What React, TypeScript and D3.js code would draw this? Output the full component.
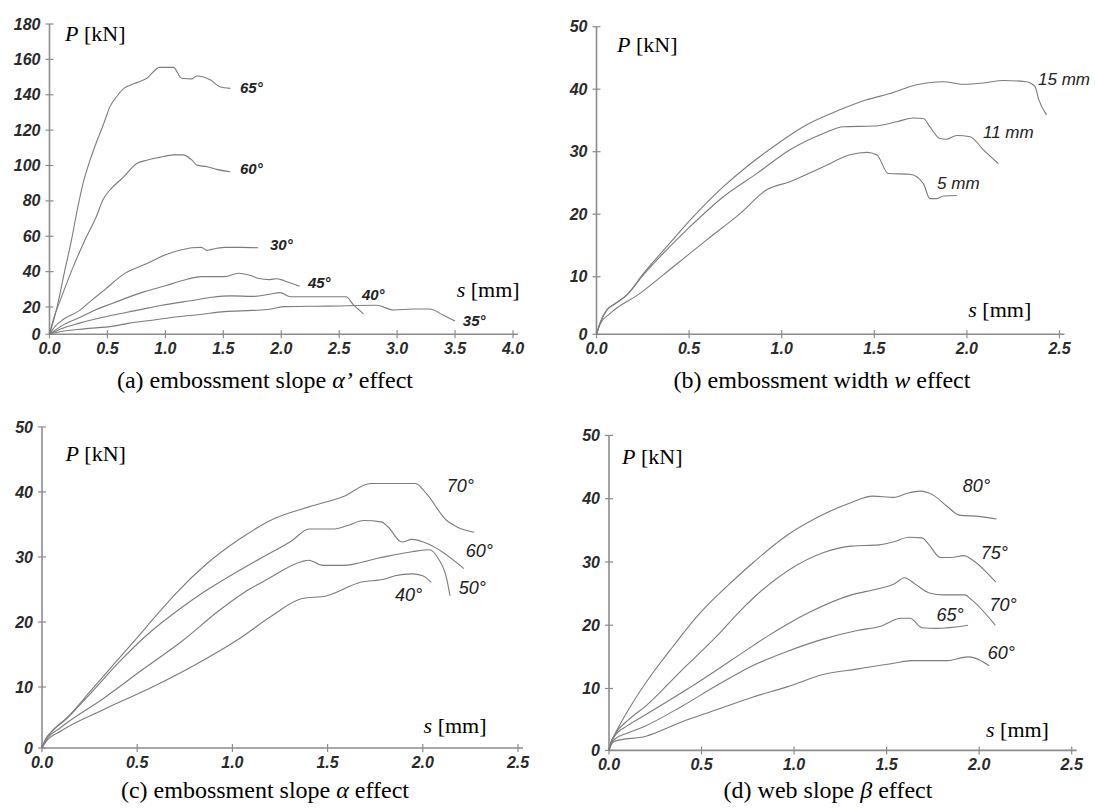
import React from "react";
import * as d3 from "d3";

type Pt = [number, number];

// ---------- Panel (a): embossment slope alpha' ----------
const aXTicks = [0, 0.5, 1, 1.5, 2, 2.5, 3, 3.5, 4];
const aYTicks = [0, 20, 40, 60, 80, 100, 120, 140, 160, 180];
const a65: Pt[] = [[0,0],[0.06,18],[0.13,40],[0.19,58],[0.24,75],[0.29,90],[0.35,103],[0.41,114],[0.47,124],[0.52,133],[0.58,139],[0.65,144],[0.7,145.5],[0.76,147],[0.84,149.3],[0.95,155.5],[1.07,155.5],[1.14,149.3],[1.23,149],[1.27,150.6],[1.39,148.3],[1.47,144.5],[1.56,143.6]];
const a60: Pt[] = [[0,0],[0.03,10],[0.1,25],[0.2,42],[0.3,57],[0.41,72],[0.46,80.5],[0.52,86],[0.64,93.6],[0.75,101],[0.84,103],[0.95,104.6],[1.07,106],[1.15,106],[1.23,103],[1.27,100.3],[1.36,99.3],[1.44,97.8],[1.56,96.5]];
const a30: Pt[] = [[0,0],[0.05,6],[0.12,11],[0.25,17],[0.35,23],[0.48,30],[0.65,39],[0.82,44],[1.02,50],[1.15,52.5],[1.23,53.5],[1.31,53.7],[1.36,52],[1.4,52.6],[1.51,53.7],[1.65,53.7],[1.8,53.5]];
const a45: Pt[] = [[0,0],[0.1,6],[0.25,12],[0.4,18],[0.54,22],[0.7,26],[0.82,28.7],[1.0,32],[1.15,35],[1.31,37.2],[1.51,37.2],[1.63,39.1],[1.72,38.1],[1.8,36.3],[1.9,35.5],[1.96,36],[2.02,35],[2.08,33.6],[2.16,31.7]];
const a40: Pt[] = [[0,0],[0.1,4],[0.25,8],[0.54,14],[0.75,17.5],[0.97,21],[1.26,24],[1.4,25.5],[1.57,26.3],[1.75,26],[1.9,27.2],[1.99,28.1],[2.08,25.8],[2.56,25.8],[2.62,21.5],[2.71,15]];
const a35: Pt[] = [[0,0],[0.1,2],[0.3,4],[0.55,6],[0.68,8],[0.9,10.5],[1.11,12.9],[1.3,14.5],[1.51,16.6],[1.75,17.5],[1.9,18.3],[2.02,20.2],[2.4,20.5],[2.82,21],[2.97,17.8],[3.14,18.5],[3.28,18.5],[3.4,14],[3.5,9.7]];
const aNames = ["65°", "60°", "30°", "45°", "40°", "35°"];
const aLabelAt: Pt[] = [[1.644,144.2],[1.644,98],[1.903,55],[2.23,33.6],[2.696,26.8],[3.567,9.7]];

// ---------- Panel (b): embossment width w ----------
const bXTicks = [0, 0.5, 1, 1.5, 2, 2.5];
const bYTicks = [0, 10, 20, 30, 40, 50];
const b15: Pt[] = [[0,0],[0.02,2],[0.055,4.2],[0.1,5.3],[0.163,6.8],[0.253,10.5],[0.379,14.8],[0.523,19.6],[0.685,24.4],[0.811,27.6],[0.955,30.8],[1.135,34.3],[1.315,36.7],[1.459,38.3],[1.585,39.3],[1.729,40.7],[1.873,41.2],[1.98,40.8],[2.09,41],[2.197,41.4],[2.32,41.2],[2.368,40.4],[2.386,38.5],[2.43,35.9]];
const b11: Pt[] = [[0,0],[0.02,2],[0.055,4.2],[0.1,5.3],[0.163,6.8],[0.253,10.3],[0.379,14.3],[0.505,18],[0.685,22.8],[0.865,26.5],[1.045,30.3],[1.225,32.9],[1.333,34],[1.495,34.1],[1.621,34.8],[1.711,35.4],[1.765,35.3],[1.8,34],[1.855,32.1],[1.891,32],[1.945,32.6],[2.017,32.4],[2.089,30.3],[2.17,28.1]];
const b5: Pt[] = [[0,0],[0.02,1.8],[0.073,3.6],[0.235,7.1],[0.415,11.6],[0.595,15.9],[0.775,20.1],[0.919,23.9],[1.045,25.2],[1.225,27.6],[1.369,29.5],[1.459,29.9],[1.513,29.5],[1.576,26.5],[1.693,26.4],[1.765,24.9],[1.8,22.5],[1.837,22.5],[1.873,22.9],[1.945,23]];
const bNames = ["15 mm", "11 mm", "5 mm"];
const bLabelAt: Pt[] = [[2.384,41.7],[2.087,33.2],[1.839,25]];

// ---------- Panel (c): embossment slope alpha ----------
const cXTicks = [0, 0.5, 1, 1.5, 2, 2.5];
const cYTicks = [0, 10, 20, 30, 40, 50];
const c70: Pt[] = [[0,0],[0.02,1.5],[0.045,2.5],[0.136,5.1],[0.262,9.6],[0.371,13.3],[0.498,17.5],[0.6,21],[0.7,24.3],[0.859,28.8],[1.04,32.8],[1.221,35.9],[1.402,37.7],[1.583,39.3],[1.727,41.3],[1.962,41.3],[2.017,39.8],[2.126,35.6],[2.18,34.6],[2.27,33.8]];
const c60: Pt[] = [[0,0],[0.02,1.5],[0.045,2.5],[0.136,5],[0.262,9.2],[0.407,13.9],[0.551,18],[0.714,21.8],[0.85,24.6],[1.0,27.3],[1.149,29.8],[1.312,32.5],[1.402,34.3],[1.529,34.3],[1.601,34.8],[1.691,35.6],[1.781,35.4],[1.818,34.6],[1.89,32.3],[1.944,32.7],[2.035,31.9],[2.216,28.2]];
const c50: Pt[] = [[0,0],[0.02,1.2],[0.1,3.4],[0.317,8],[0.534,12.8],[0.733,17],[0.932,21.8],[1.06,24.5],[1.185,26.6],[1.366,29.3],[1.402,29.5],[1.474,28.7],[1.583,28.7],[1.764,29.8],[1.944,30.8],[2.035,31.1],[2.08,29.8],[2.126,26.6],[2.143,24]];
const c40: Pt[] = [[0,0],[0.02,1],[0.1,2.8],[0.317,6.2],[0.588,10.1],[0.859,14.3],[1.04,17.5],[1.2,20.8],[1.366,23.6],[1.492,24],[1.673,26.1],[1.8,26.6],[1.854,27.1],[1.944,27.4],[1.999,27.1],[2.044,26.1]];
const cNames = ["70°", "60°", "50°", "40°"];
const cLabelAt: Pt[] = [[2.126,41],[2.225,31],[2.189,25.3],[1.854,24.2]];

// ---------- Panel (d): web slope beta ----------
const dXTicks = [0, 0.5, 1, 1.5, 2, 2.5];
const dYTicks = [0, 10, 20, 30, 40, 50];
const d80: Pt[] = [[0,0],[0.01,1.2],[0.03,2.5],[0.12,7.3],[0.24,12.6],[0.35,16.8],[0.47,21.2],[0.56,24],[0.65,26.5],[0.775,29.8],[0.966,34.3],[1.157,37.5],[1.31,39.4],[1.425,40.4],[1.54,40.2],[1.616,40.9],[1.683,41.2],[1.75,40.6],[1.826,38.8],[1.893,37.4],[1.998,37.2],[2.094,36.8]];
const d75: Pt[] = [[0,0],[0.01,1.2],[0.03,2.5],[0.1,4.8],[0.2,7.2],[0.39,12.8],[0.59,18.5],[0.7,22],[0.78,24.3],[0.97,28.7],[1.16,31.5],[1.31,32.5],[1.46,32.7],[1.54,33.2],[1.62,33.9],[1.69,33.8],[1.73,32.7],[1.79,30.7],[1.85,30.7],[1.92,31],[1.96,30.4],[2.09,26.8]];
const d70: Pt[] = [[0,0],[0.01,1.2],[0.03,2.3],[0.1,4],[0.2,5.8],[0.488,11.1],[0.775,16.7],[0.853,18.2],[0.966,20.2],[1.08,22],[1.31,24.8],[1.444,25.7],[1.54,26.5],[1.597,27.5],[1.654,26.5],[1.731,25.1],[1.807,24.8],[1.922,24.8],[1.96,24],[2.087,20]];
const d65: Pt[] = [[0,0],[0.01,1],[0.03,1.8],[0.1,2.8],[0.2,4],[0.392,7.1],[0.584,10.5],[0.775,13.6],[0.966,15.9],[1.157,17.8],[1.348,19.2],[1.463,19.8],[1.578,21.1],[1.626,21.1],[1.693,19.6],[1.769,19.5],[1.94,20]];
const d60: Pt[] = [[0,0],[0.01,0.8],[0.03,1.5],[0.2,2.3],[0.392,4.6],[0.584,6.6],[0.775,8.6],[0.966,10.3],[1.157,12.2],[1.348,13.1],[1.54,14],[1.635,14.4],[1.826,14.4],[1.94,15],[1.978,14.8],[2.054,13.6]];
const dNames = ["80°", "75°", "70°", "65°", "60°"];
const dLabelAt: Pt[] = [[1.912,42.1],[2.008,31.4],[2.056,23.3],[1.769,21.6],[2.046,15.7]];

const SERIF = "'Liberation Serif', 'Times New Roman', serif";
const SANS = "'Liberation Sans', Arial, sans-serif";

type PanelCfg = {
  xDomain: number[]; xRange: number[];
  yDomain: number[]; yRange: number[];
  xTicks: number[]; yTicks: number[]; yFmt: (v: number) => string;
  series: Pt[][]; names: string[]; labelAt: Pt[];
  labelSize: number; labelWeight: string;
  pPos: [number, number]; sPos: [number, number];
  caption: React.ReactNode; capPos: [number, number];
};

const panels: PanelCfg[] = [
  {
    xDomain: [0, 4], xRange: [49.5, 513],
    yDomain: [0, 20, 180], yRange: [334.3, 307, 24],
    xTicks: aXTicks, yTicks: aYTicks, yFmt: d3.format("d"),
    series: [a65, a60, a30, a45, a40, a35], names: aNames, labelAt: aLabelAt,
    labelSize: 15, labelWeight: "bold",
    pPos: [65, 40.7], sPos: [456.7, 297],
    caption: (<>(a) embossment slope <tspan fontStyle="italic">α’</tspan> effect</>), capPos: [265, 388],
  },
  {
    xDomain: [0, 2.5], xRange: [596.5, 1059.5],
    yDomain: [0, 10, 50], yRange: [334.3, 276.7, 26.7],
    xTicks: bXTicks, yTicks: bYTicks, yFmt: d3.format("d"),
    series: [b15, b11, b5], names: bNames, labelAt: bLabelAt,
    labelSize: 17, labelWeight: "normal",
    pPos: [617, 51.7], sPos: [968.3, 317.3],
    caption: (<>(b) embossment width <tspan fontStyle="italic">w</tspan> effect</>), capPos: [822, 388],
  },
  {
    xDomain: [0, 2.5], xRange: [42, 518],
    yDomain: [0, 10, 50], yRange: [748, 687, 426.9],
    xTicks: cXTicks, yTicks: cYTicks, yFmt: d3.format("d"),
    series: [c70, c60, c50, c40], names: cNames, labelAt: cLabelAt,
    labelSize: 18, labelWeight: "normal",
    pPos: [65.4, 461], sPos: [423.6, 732.6],
    caption: (<>(c) embossment slope <tspan fontStyle="italic">α</tspan> effect</>), capPos: [265, 798],
  },
  {
    xDomain: [0, 2.5], xRange: [609, 1071.7],
    yDomain: [0, 10, 50], yRange: [750.4, 688.5, 435.4],
    xTicks: dXTicks, yTicks: dYTicks, yFmt: d3.format("d"),
    series: [d80, d75, d70, d65, d60], names: dNames, labelAt: dLabelAt,
    labelSize: 18, labelWeight: "normal",
    pPos: [622, 463.7], sPos: [986, 737.3],
    caption: (<>(d) web slope <tspan fontStyle="italic">β</tspan> effect</>), capPos: [828, 798],
  },
];

const xFmt = d3.format(".1f");

function Panel({ cfg }: { cfg: PanelCfg }) {
  const x = d3.scaleLinear().domain(cfg.xDomain).range(cfg.xRange);
  const y = d3.scaleLinear().domain(cfg.yDomain).range(cfg.yRange);
  const line = d3.line<Pt>().x((d) => x(d[0])).y((d) => y(d[1])).curve(d3.curveMonotoneX);
  const x0 = x(0);
  const y0 = y(0);
  const xMax = x(cfg.xDomain[cfg.xDomain.length - 1]);
  const yMax = y(cfg.yDomain[cfg.yDomain.length - 1]);
  const axisColor = "#8c8c8c";
  return (
    <g>
      <line x1={x0} x2={x0} y1={y0} y2={yMax} stroke={axisColor} strokeWidth={1.6} />
      <line x1={x0} x2={xMax + 5} y1={y0} y2={y0} stroke={axisColor} strokeWidth={1.6} />
      {cfg.yTicks.map((t) => (
        <g key={"y" + t}>
          <line x1={x0 - 4} x2={x0 + 4} y1={y(t)} y2={y(t)} stroke={axisColor} strokeWidth={1.2} />
          <text x={x0 - 9} y={y(t)} dy="0.35em" textAnchor="end" fontFamily={SANS}
            fontWeight="bold" fontStyle="italic" fontSize={16} fill="#2a2a2a">{cfg.yFmt(t)}</text>
        </g>
      ))}
      {cfg.xTicks.map((t) => (
        <g key={"x" + t}>
          <line x1={x(t)} x2={x(t)} y1={y0 - 4} y2={y0 + 4} stroke={axisColor} strokeWidth={1.2} />
          <text x={x(t)} y={y0 + 20} textAnchor="middle" fontFamily={SANS}
            fontWeight="bold" fontStyle="italic" fontSize={16} fill="#2a2a2a">{xFmt(t)}</text>
        </g>
      ))}
      {cfg.series.map((s, i) => (
        <path key={"s" + i} d={line(s) || ""} fill="none" stroke="#7c7c7c" strokeWidth={1.1} strokeLinejoin="round" />
      ))}
      {cfg.names.map((n, i) => (
        <text key={"n" + i} x={x(cfg.labelAt[i][0])} y={y(cfg.labelAt[i][1])} dy="0.35em"
          fontFamily={SANS} fontStyle="italic" fontWeight={cfg.labelWeight}
          fontSize={cfg.labelSize} fill="#222">{n}</text>
      ))}
      <text x={cfg.pPos[0]} y={cfg.pPos[1]} fontFamily={SERIF} fontSize={22} fill="#000">
        <tspan fontStyle="italic">P</tspan> [kN]
      </text>
      <text x={cfg.sPos[0]} y={cfg.sPos[1]} fontFamily={SERIF} fontSize={22} fill="#000">
        <tspan fontStyle="italic">s</tspan> [mm]
      </text>
      <text x={cfg.capPos[0]} y={cfg.capPos[1]} textAnchor="middle" fontFamily={SERIF} fontSize={24} fill="#000">
        {cfg.caption}
      </text>
    </g>
  );
}

export default function App() {
  return (
    <svg width={1095} height={810} viewBox="0 0 1095 810"
      style={{ position: "absolute", left: 0, top: 0, background: "#fff" }}>
      <rect x={0} y={0} width={1095} height={810} fill="#fff" />
      {panels.map((p, i) => <Panel key={i} cfg={p} />)}
    </svg>
  );
}
